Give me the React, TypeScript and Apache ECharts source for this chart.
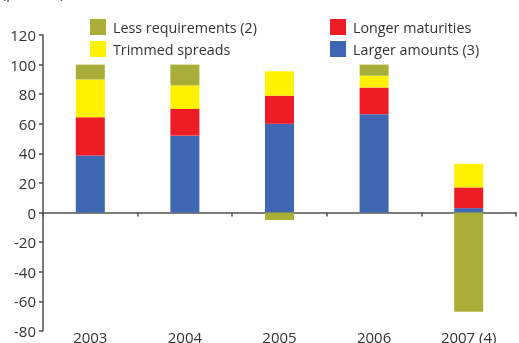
import React, { useEffect, useRef } from "react";
import * as echarts from "echarts";

const categories = ["2003", "2004", "2005", "2006", "2007 (4)"];
const largerAmounts = [38.5, 52, 60, 66.5, 3];
const longerMaturities = [26, 18, 19, 18, 14];
const trimmedSpreads = [25.5, 16, 16.5, 8, 16];
const lessRequirements = [10, 14, -5, 7.5, -67];

const FONT = "'Open Sans', 'Noto Sans', sans-serif";
const TXT = "#333333";
const AX = "#505050";

export default function App() {
  const ref = useRef<HTMLDivElement>(null);
  useEffect(() => {
    if (!ref.current) return;
    const chart = echarts.init(ref.current, undefined, { renderer: "svg" });
    const legendText = { color: TXT, fontSize: 14.3, fontFamily: FONT, padding: [0, 0, 0, 2] };
    chart.setOption({
      animation: false,
      textStyle: { fontFamily: FONT },
      grid: { left: 43, right: 3, top: 35, bottom: 12, outerBoundsMode: "none", containLabel: false },
      legend: [
        {
          orient: "vertical",
          left: 90,
          top: 19,
          padding: 0,
          itemWidth: 16,
          itemHeight: 16,
          itemGap: 6,
          icon: "rect",
          textStyle: legendText,
          data: ["Less requirements (2)", "Trimmed spreads"],
        },
        {
          orient: "vertical",
          left: 330,
          top: 19,
          padding: 0,
          itemWidth: 16,
          itemHeight: 16,
          itemGap: 6,
          icon: "rect",
          textStyle: legendText,
          data: ["Longer maturities", "Larger amounts (3)"],
        },
      ],
      graphic: [
        {
          type: "text",
          left: 2,
          top: -15,
          style: { text: "(per cent)", fontSize: 14, fontFamily: FONT, fill: TXT },
        },
      ],
      xAxis: [
        {
          type: "category",
          data: categories,
          axisLine: { onZero: true, lineStyle: { color: AX, width: 1.5 } },
          axisTick: { show: true, length: 4, lineStyle: { color: AX, width: 1.5 } },
          axisLabel: { show: false },
        },
        {
          type: "category",
          data: categories,
          position: "bottom",
          axisLine: { show: false, onZero: false },
          axisTick: { show: false },
          axisLabel: { color: TXT, fontSize: 15, fontFamily: FONT, margin: -2 },
        },
      ],
      yAxis: {
        type: "value",
        min: -80,
        max: 120,
        interval: 20,
        axisLine: { show: true, lineStyle: { color: AX, width: 1.5 } },
        axisTick: { show: true, length: 4, lineStyle: { color: AX, width: 1.5 } },
        splitLine: { show: false },
        axisLabel: { color: TXT, fontSize: 15, fontFamily: FONT, margin: 7 },
      },
      series: [
        {
          name: "Larger amounts (3)",
          type: "bar",
          stack: "s",
          barWidth: 29,
          itemStyle: { color: "#3F67B1" },
          data: largerAmounts,
        },
        {
          name: "Longer maturities",
          type: "bar",
          stack: "s",
          barWidth: 29,
          itemStyle: { color: "#EE1C25" },
          data: longerMaturities,
        },
        {
          name: "Trimmed spreads",
          type: "bar",
          stack: "s",
          barWidth: 29,
          itemStyle: { color: "#FFF200" },
          data: trimmedSpreads,
        },
        {
          name: "Less requirements (2)",
          type: "bar",
          stack: "s",
          barWidth: 29,
          itemStyle: { color: "#A8AE37" },
          data: lessRequirements,
        },
      ],
    });
    return () => chart.dispose();
  }, []);
  return <div ref={ref} style={{ width: 519, height: 343, position: "fixed", left: 0, top: 0 }} />;
}
